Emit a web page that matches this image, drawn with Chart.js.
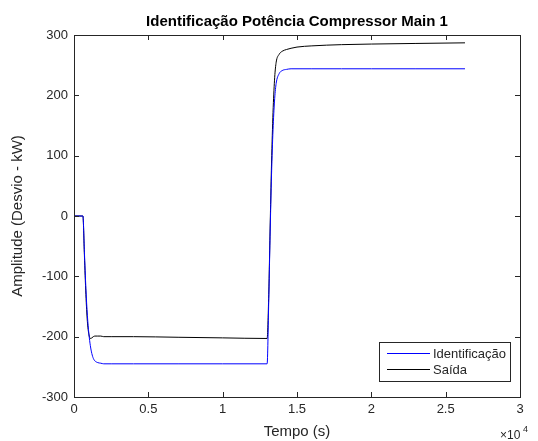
<!DOCTYPE html>
<html>
<head>
<meta charset="utf-8">
<script src="https://cdn.jsdelivr.net/npm/chart.js@4.4.0/dist/chart.umd.min.js"></script>
<style>
  html, body { margin: 0; padding: 0; background: #fff; }
  #wrap { width: 538px; height: 441px; }
</style>
</head>
<body>
<div id="wrap"><canvas id="chart"></canvas></div>
<script>
// time in seconds
const tempo = [0, 600, 700, 800, 900, 1000, 1100, 1200, 1300, 1400, 1600, 1800, 2000, 2500, 4000, 7000, 10000, 12990,
  13100, 13200, 13300, 13400, 13500, 13600, 13800, 14000, 14300, 14600, 15000, 16000, 18000, 20000, 23000, 26300];
const identificacao = [0, 0, -60, -120, -165, -195, -215, -228, -236, -240, -243, -244, -245, -245, -245, -245, -245, -245,
  -140, -20, 80, 150, 195, 220, 236, 241, 243, 244, 244, 244, 244, 244, 244, 244];
const saida = [0, 0, -65, -130, -175, -196, -203, -202, -200, -199, -199, -199, -200, -200, -200, -201, -202, -203,
  -130, -10, 100, 180, 230, 255, 268, 273, 276, 278, 280, 282, 284, 285, 286, 287];
const xTicks = [0, 5000, 10000, 15000, 20000, 25000, 30000];
const yTicks = [-300, -200, -100, 0, 100, 200, 300];
const chartTitle = 'Identifica\u00e7\u00e3o Pot\u00eancia Compressor Main 1';

const FONT = 'Arial, "Liberation Sans", Helvetica, sans-serif';
const AXIS = '#262626';

function pts(xs, ys) {
  return xs.map((x, i) => ({ x: x, y: ys[i] }));
}

// MATLAB-style box, inward ticks, title, legend and exponent label
const matlabBox = {
  id: 'matlabBox',
  afterDraw(chart) {
    const { ctx, chartArea: a, scales } = chart;
    ctx.save();
    ctx.strokeStyle = AXIS;
    ctx.lineWidth = 1;
    ctx.strokeRect(Math.round(a.left) + 0.5, Math.round(a.top) + 0.5,
      Math.round(a.right - a.left), Math.round(a.bottom - a.top));
    const t = 5;
    ctx.beginPath();
    xTicks.forEach(v => {
      const px = Math.round(scales.x.getPixelForValue(v)) + 0.5;
      ctx.moveTo(px, a.bottom); ctx.lineTo(px, a.bottom - t);
      ctx.moveTo(px, a.top); ctx.lineTo(px, a.top + t);
    });
    yTicks.forEach(v => {
      const py = Math.round(scales.y.getPixelForValue(v)) + 0.5;
      ctx.moveTo(a.left, py); ctx.lineTo(a.left + t, py);
      ctx.moveTo(a.right, py); ctx.lineTo(a.right - t, py);
    });
    ctx.stroke();

    // title, centred over the axes
    ctx.fillStyle = '#000';
    ctx.textAlign = 'center';
    ctx.textBaseline = 'alphabetic';
    ctx.font = 'bold 15px ' + FONT;
    ctx.fillText(chartTitle, (a.left + a.right) / 2, 26);

    // exponent
    ctx.fillStyle = AXIS;
    ctx.textAlign = 'left';
    ctx.font = '12px ' + FONT;
    ctx.fillText('\u00d710', 500, 439);
    ctx.font = '9px ' + FONT;
    ctx.fillText('4', 523, 432);

    // legend
    const lx = 379, ly = 342, lw = 131, lh = 39;
    ctx.fillStyle = '#fff';
    ctx.fillRect(lx, ly, lw, lh);
    ctx.strokeStyle = AXIS;
    ctx.strokeRect(lx + 0.5, ly + 0.5, lw, lh);
    ctx.font = '13px ' + FONT;
    ctx.textBaseline = 'middle';
    chart.data.datasets.forEach((ds, i) => {
      const y = ly + 11 + i * 16;
      ctx.strokeStyle = ds.borderColor;
      ctx.beginPath();
      ctx.moveTo(387, y + 0.5); ctx.lineTo(430, y + 0.5);
      ctx.stroke();
      ctx.fillStyle = AXIS;
      ctx.fillText(ds.label, 433, y + 1);
    });
    ctx.restore();
  }
};

new Chart(document.getElementById('chart'), {
  type: 'line',
  data: {
    datasets: [
      {
        label: 'Identifica\u00e7\u00e3o',
        data: pts(tempo, identificacao),
        borderColor: '#0000ff',
        borderWidth: 1,
        pointRadius: 0,
        cubicInterpolationMode: 'monotone'
      },
      {
        label: 'Sa\u00edda',
        data: pts(tempo, saida),
        borderColor: '#000000',
        borderWidth: 1,
        pointRadius: 0,
        cubicInterpolationMode: 'monotone'
      }
    ]
  },
  options: {
    responsive: true,
    maintainAspectRatio: false,
    animation: false,
    layout: { padding: { left: 0, right: 18, top: 35, bottom: 0 } },
    plugins: {
      legend: { display: false },
      tooltip: { enabled: false },
      title: { display: false }
    },
    scales: {
      x: {
        type: 'linear',
        min: 0,
        max: 30000,
        afterBuildTicks(scale) { scale.ticks = xTicks.map(v => ({ value: v })); },
        afterFit(scale) { scale.height = 44; },
        grid: { display: false, drawTicks: false },
        border: { display: false },
        ticks: {
          color: AXIS,
          font: { family: FONT, size: 13 },
          padding: 5,
          maxRotation: 0,
          callback: v => String(v / 10000)
        },
        title: {
          display: true,
          text: 'Tempo (s)',
          color: AXIS,
          font: { family: FONT, size: 15 },
          padding: { top: 0, bottom: 0 }
        }
      },
      y: {
        min: -300,
        max: 300,
        afterBuildTicks(scale) { scale.ticks = yTicks.map(v => ({ value: v })); },
        afterFit(scale) { scale.width = 74; },
        grid: { display: false, drawTicks: false },
        border: { display: false },
        ticks: {
          color: AXIS,
          font: { family: FONT, size: 13 },
          padding: 6
        },
        title: {
          display: true,
          text: 'Amplitude (Desvio - kW)',
          color: AXIS,
          font: { family: FONT, size: 15 },
          padding: { top: 9, bottom: 0 }
        }
      }
    }
  },
  plugins: [matlabBox]
});
</script>
</body>
</html>
